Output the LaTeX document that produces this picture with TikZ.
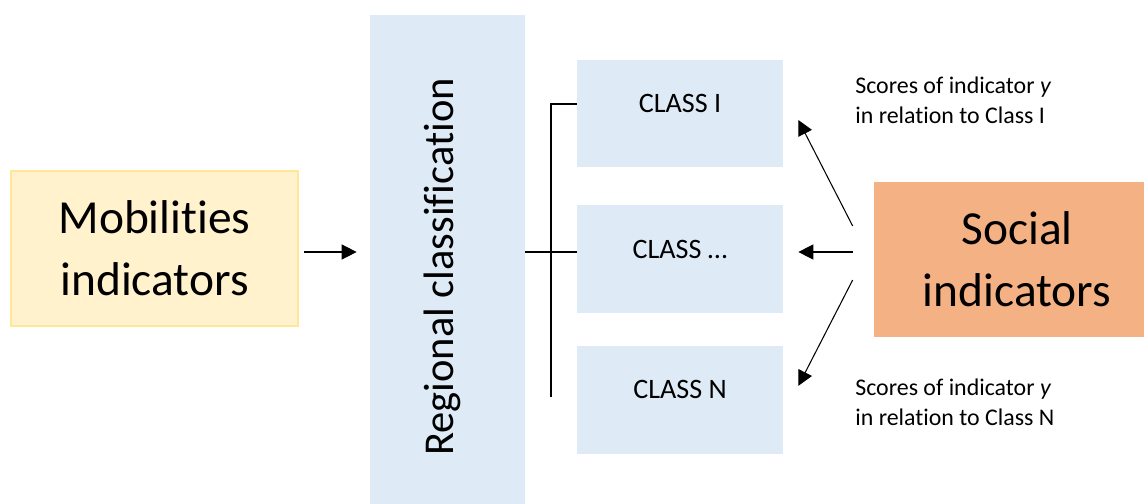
\documentclass[tikz,border=0pt]{standalone}
\usepackage{fontspec}
\setmainfont{Carlito}[Ligatures=NoCommon]
\usepackage{xcolor}
\usepackage{tikz}
\usetikzlibrary{positioning,arrows.meta}

\definecolor{mobfill}{HTML}{FFF2CC}
\definecolor{mobline}{HTML}{FFE699}
\definecolor{regfill}{HTML}{DEEBF7}
\definecolor{socfill}{HTML}{F4B183}

\begin{document}
\begin{tikzpicture}[x=0.02cm, y=-0.02cm,
    box/.style={rectangle, inner sep=0pt, align=center},
    classbox/.style={box, fill=regfill, minimum width=4.12cm, minimum height=2.16cm},
    classtext/.style={font=\fontsize{16}{19}\selectfont, yshift=0.2cm},
    bigtext/.style={font=\fontsize{27}{35.3}\selectfont},
    scoretext/.style={font=\fontsize{13.6}{17}\selectfont, align=left, anchor=north west, inner sep=0pt},
    arr/.style={-{Triangle[length=0.3cm, width=0.3cm]}, line width=0.6pt}]

    \useasboundingbox (0,0) rectangle (1144,504);

    % Nodes
    \node (mob) [box, bigtext, fill=mobfill, draw=mobline, line width=1.2pt, minimum width=5.74cm, minimum height=3.1cm] at (154.5,248.5) {Mobilities\\indicators};
    % rotated: north is on the left, south on the right
    \node (reg) [box, fill=regfill, rotate=90, minimum width=9.78cm, minimum height=3.1cm, text depth=0.37cm, font=\fontsize{24.2}{29}\selectfont] at (447.5,259.5) {Regional classification\kern0.3cm};
    \node (cls1) [classbox, label={[classtext]center:CLASS I}] at (680,113.5) {};
    \node (cls2) [classbox, below=0.74cm of cls1, label={[classtext]center:CLASS \dots}] {};
    \node (cls3) [classbox, below=0.64cm of cls2, label={[classtext]center:CLASS N}] {};
    \node (soc) [box, bigtext, fill=socfill, minimum width=5.72cm, minimum height=3.1cm] at (1017,259.5) {Social\\indicators};

    % Score labels
    \node (scoreI) [scoretext] at (855,77) {Scores of indicator \textit{y}\\in relation to Class I};
    \node (scoreN) [scoretext] at (855,379) {Scores of indicator \textit{y}\\in relation to Class N};

    % Bracket
    \coordinate (mid) at (551,252);
    \coordinate (bend) at (551,104);
    \coordinate (bot) at (551,397);
    \draw[line width=0.8pt] (cls1.west |- bend) -| (bot);
    \draw[line width=0.6pt] (reg.south |- mid) -- (cls2.west |- mid);

    % Arrows
    \draw[arr, shorten <=0.1cm, shorten >=0.26cm] (mob.east |- mid) -- (reg.north |- mid);
    \draw[arr, shorten <=0.42cm, shorten >=0.3cm] (soc.west |- mid) -- (cls2.east |- mid);
    \draw[arr] ([shift={(-21,-33.5)}]soc.west) -- ([shift={(15,6.5)}]cls1.east);
    \draw[arr] ([shift={(-21,20.5)}]soc.west) -- ([shift={(15,-14)}]cls3.east);

\end{tikzpicture}
\end{document}
